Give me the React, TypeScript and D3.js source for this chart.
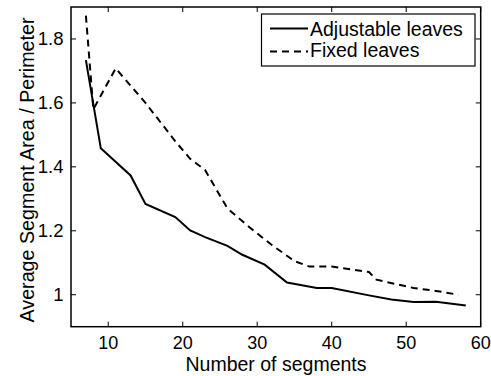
import { useEffect, useRef } from 'react'
import * as d3 from 'd3'

const adjX = [7, 9, 13, 15, 19, 21, 23, 26, 28, 31, 34, 38, 40, 45, 48, 51, 54, 58]
const adjY = [1.734, 1.458, 1.373, 1.284, 1.243, 1.201, 1.18, 1.153, 1.125, 1.094, 1.038, 1.021, 1.021, 0.998, 0.985, 0.977, 0.978, 0.966]

const fixX = [7, 8, 11, 15, 19, 21, 23, 26, 29, 32, 35, 37, 40, 45, 46, 51, 54, 57]
const fixY = [1.873, 1.58, 1.708, 1.6, 1.48, 1.425, 1.39, 1.27, 1.21, 1.155, 1.105, 1.088, 1.088, 1.071, 1.047, 1.021, 1.012, 1.0]

const xTicks = [10, 20, 30, 40, 50, 60]
const yTicks = [1, 1.2, 1.4, 1.6, 1.8]

const FONT = '"Liberation Sans", Arial, Helvetica, sans-serif'

export default function App() {
  const ref = useRef<SVGSVGElement>(null)

  useEffect(() => {
    const svg = d3.select(ref.current)
    svg.selectAll('*').remove()
    const w = 491, h = 376
    const M = { l: 71, r: 10.3, t: 7, b: 49.3 }
    const W = w - M.l - M.r, H = h - M.t - M.b

    const x = d3.scaleLinear().domain([5, 60]).range([0, W])
    const y = d3.scaleLinear().domain([0.9, 1.9]).range([H, 0])

    svg.attr('width', w).attr('height', h)
    svg.append('rect').attr('width', w).attr('height', h).attr('fill', '#fff')
    const g = svg.append('g').attr('transform', `translate(${M.l},${M.t})`)

    const tk = 5
    // ticks (inward, mirrored on top/right)
    xTicks.forEach(t => {
      g.append('line').attr('x1', x(t)).attr('x2', x(t)).attr('y1', H).attr('y2', H - tk).attr('stroke', '#000').attr('stroke-width', 1)
      g.append('line').attr('x1', x(t)).attr('x2', x(t)).attr('y1', 0).attr('y2', tk).attr('stroke', '#000').attr('stroke-width', 1)
      g.append('text').attr('x', x(t)).attr('y', H + 22.5).attr('text-anchor', 'middle')
        .attr('font-family', FONT).attr('font-size', '18px').attr('fill', '#000').text(String(t))
    })
    yTicks.forEach(t => {
      g.append('line').attr('x1', 0).attr('x2', tk).attr('y1', y(t)).attr('y2', y(t)).attr('stroke', '#000').attr('stroke-width', 1)
      g.append('line').attr('x1', W).attr('x2', W - tk).attr('y1', y(t)).attr('y2', y(t)).attr('stroke', '#000').attr('stroke-width', 1)
      g.append('text').attr('x', -7.5).attr('y', y(t)).attr('dy', '0.35em').attr('text-anchor', 'end')
        .attr('font-family', FONT).attr('font-size', '18.5px').attr('fill', '#000').text(d3.format('~g')(t))
    })

    g.append('rect').attr('width', W).attr('height', H).attr('fill', 'none')
      .attr('stroke', '#000').attr('stroke-width', 1.5)

    const line = d3.line<[number, number]>().x(d => x(d[0])).y(d => y(d[1]))
    g.append('path').datum(adjX.map((v, i) => [v, adjY[i]] as [number, number]))
      .attr('fill', 'none').attr('stroke', '#000').attr('stroke-width', 2).attr('d', line)
    g.append('path').datum(fixX.map((v, i) => [v, fixY[i]] as [number, number]))
      .attr('fill', 'none').attr('stroke', '#000').attr('stroke-width', 2)
      .attr('stroke-dasharray', '7,5').attr('d', line)

    // legend
    const lg = svg.append('g')
    lg.append('rect').attr('x', 261.5).attr('y', 14).attr('width', 213.5).attr('height', 52)
      .attr('fill', '#fff').attr('stroke', '#000').attr('stroke-width', 1.2)
    lg.append('line').attr('x1', 270).attr('x2', 308).attr('y1', 28.5).attr('y2', 28.5)
      .attr('stroke', '#000').attr('stroke-width', 2)
    lg.append('line').attr('x1', 270).attr('x2', 308).attr('y1', 51.5).attr('y2', 51.5)
      .attr('stroke', '#000').attr('stroke-width', 2).attr('stroke-dasharray', '7,5')
    lg.append('text').attr('x', 310).attr('y', 36).attr('font-family', FONT).attr('font-size', '19.5px').text('Adjustable leaves')
    lg.append('text').attr('x', 310).attr('y', 57).attr('font-family', FONT).attr('font-size', '19.5px').text('Fixed leaves')

    // axis labels
    svg.append('text').attr('x', 276).attr('y', 371).attr('text-anchor', 'middle')
      .attr('font-family', FONT).attr('font-size', '19.5px').text('Number of segments')
    svg.append('text').attr('transform', 'translate(34,170) rotate(-90)').attr('text-anchor', 'middle')
      .attr('font-family', FONT).attr('font-size', '19.7px').text('Average Segment Area / Perimeter')
  }, [])

  return (
    <div style={{ position: 'absolute', left: 0, top: 0 }}>
      <svg ref={ref} style={{ display: 'block' }} />
    </div>
  )
}
